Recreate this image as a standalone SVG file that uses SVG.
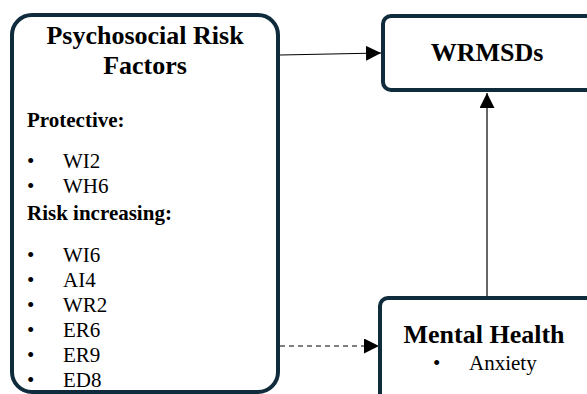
<svg xmlns="http://www.w3.org/2000/svg" width="587" height="394" viewBox="0 0 587 394">
<style>
.box{fill:#fff;stroke:#0f2b3c;stroke-width:4}
.t{font-family:"Liberation Serif","Times New Roman",serif;fill:#000}
.b{font-weight:bold}
.h{font-size:26px}
.s{font-size:21px}
.c{stroke:#000;stroke-width:1.2;fill:none}
.d{stroke-dasharray:5,4}
</style>
<defs>
<marker id="ah" viewBox="0 0 10 10" refX="10" refY="5" markerWidth="15" markerHeight="15" markerUnits="userSpaceOnUse" orient="auto">
<path d="M0,0L10,5L0,10Z" fill="#000"/>
</marker>
</defs>
<rect width="587" height="394" fill="#fff"/>
<g id="connectors">
<path class="c" d="M280,55L381,53" marker-end="url(#ah)"/>
<path class="c" d="M487,296L487,93" marker-end="url(#ah)"/>
<path class="c d" d="M280,346L379,346" marker-end="url(#ah)"/>
</g>
<g id="psychosocial">
<rect class="box" x="12" y="15" width="266" height="377" rx="20"/>
<text class="t b h" x="145" y="44" text-anchor="middle">Psychosocial Risk</text>
<text class="t b h" x="145" y="74" text-anchor="middle">Factors</text>
<text class="t b s" x="27" y="127">Protective:</text>
<g class="t s">
<text x="27" y="168">•</text><text x="63" y="168">WI2</text>
<text x="27" y="193">•</text><text x="63" y="193">WH6</text>
</g>
<text class="t b s" x="27" y="220">Risk increasing:</text>
<g class="t s">
<text x="27" y="262">•</text><text x="63" y="262">WI6</text>
<text x="27" y="287">•</text><text x="63" y="287">AI4</text>
<text x="27" y="312">•</text><text x="63" y="312">WR2</text>
<text x="27" y="337">•</text><text x="63" y="337">ER6</text>
<text x="27" y="362">•</text><text x="63" y="362">ER9</text>
<text x="27" y="387">•</text><text x="63" y="387">ED8</text>
</g>
</g>
<g id="wrmsds">
<rect class="box" x="383" y="16" width="220" height="74" rx="8"/>
<text class="t b h" x="487" y="61" text-anchor="middle">WRMSDs</text>
</g>
<g id="mental-health">
<rect class="box" x="380" y="298" width="230" height="120" rx="8"/>
<text class="t b h" x="484" y="343" text-anchor="middle">Mental Health</text>
<text class="t s" x="433" y="370">•</text>
<text class="t s" x="469" y="370">Anxiety</text>
</g>
</svg>
